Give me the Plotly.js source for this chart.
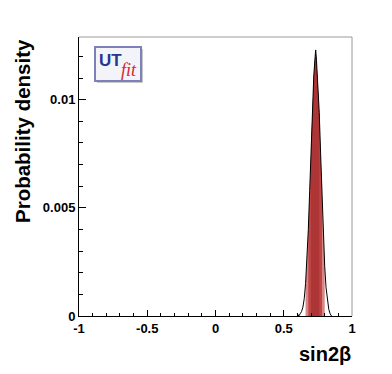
<!DOCTYPE html>
<html>
<head>
<meta charset="utf-8">
<script src="https://cdn.plot.ly/plotly-3.0.1.min.js"></script>
<style>html,body{margin:0;padding:0;background:#fff;}#chart{width:392px;height:374px;}</style>
</head>
<body>
<div id="chart"></div>
<script>
// sin2beta posterior
const sin2b = [0.60, 0.61, 0.62, 0.63, 0.64, 0.65, 0.66, 0.67, 0.68, 0.69, 0.70, 0.71, 0.72, 0.73, 0.734, 0.74, 0.75, 0.76, 0.77, 0.78, 0.79, 0.80, 0.81, 0.82, 0.83, 0.84, 0.85];
const density = [0.0001, 0.0000, 0.0001, 0.0002, 0.0004, 0.0008, 0.0015, 0.0025, 0.0040, 0.0058, 0.0078, 0.0098, 0.0111, 0.0120, 0.0123, 0.0118, 0.0108, 0.0094, 0.0075, 0.0054, 0.0037, 0.0023, 0.0013, 0.0007, 0.0003, 0.0001, 0.0000];
// probability regions (outer, middle, core)
const region95 = [0.66, 0.80];
const region68 = [0.68, 0.78];
const regionCore = [0.70, 0.76];
const xTicks = [-1, -0.5, 0, 0.5, 1];
const xTickText = ['-1', '-0.5', '0', '0.5', '1'];
const yTicks = [0, 0.005, 0.01];
const yTickText = ['0', '0.005', '0.01'];

function sub(r) {
  const xs = [], ys = [];
  sin2b.forEach((v, i) => { if (v >= r[0] - 1e-9 && v <= r[1] + 1e-9) { xs.push(v); ys.push(density[i]); } });
  return {x: xs, y: ys};
}
const fills = [[region95, '#d98585'], [region68, '#bf4545'], [regionCore, '#ad3535']];
const traces = fills.map(([r, c]) => {
  const s = sub(r);
  return {x: s.x, y: s.y, type: 'scatter', mode: 'lines', fill: 'tozeroy', fillcolor: c, line: {width: 0, color: c}, hoverinfo: 'skip'};
});
traces.push({x: sin2b, y: density, type: 'scatter', mode: 'lines', line: {color: 'black', width: 1}, hoverinfo: 'skip'});

const F = 'Liberation Sans, Arial, sans-serif';
const W = 273, H = 279;
const px = v => (v - 79) / W;
const py = v => (316 - v) / H;

const layout = {
  width: 392, height: 374,
  margin: {l: 79, r: 40, t: 37, b: 58},
  paper_bgcolor: 'white', plot_bgcolor: 'white',
  showlegend: false,
  xaxis: {
    range: [-1, 1], tickvals: xTicks, ticktext: xTickText,
    ticks: 'inside', ticklen: 6, tickwidth: 1, tickcolor: 'black',
    showline: true, linecolor: 'black', linewidth: 1, zeroline: false, showgrid: false,
    minor: {dtick: 0.1, tick0: 0, ticks: 'inside', ticklen: 3, tickcolor: 'black', showgrid: false},
    tickfont: {family: F, size: 13, color: 'black', weight: 'bold'}
  },
  yaxis: {
    range: [0, 0.0129], tickvals: yTicks, ticktext: yTickText,
    ticks: 'inside', ticklen: 7, tickwidth: 1, tickcolor: 'black',
    showline: true, linecolor: 'black', linewidth: 1, zeroline: false, showgrid: false,
    minor: {dtick: 0.001, tick0: 0, ticks: 'inside', ticklen: 4, tickcolor: 'black', showgrid: false},
    tickfont: {family: F, size: 13, color: 'black', weight: 'bold'}
  },
  shapes: [
    {type: 'line', xref: 'paper', yref: 'paper', x0: 0, x1: 1, y0: 1, y1: 1, line: {color: '#9a9a9a', width: 1}},
    {type: 'line', xref: 'paper', yref: 'paper', x0: 1, x1: 1, y0: 0, y1: 1, line: {color: '#9a9a9a', width: 1}},
    {type: 'rect', xref: 'paper', yref: 'paper', x0: px(97), x1: px(143), y0: py(83), y1: py(49), fillcolor: '#c8c8c8', line: {width: 0}},
    {type: 'rect', xref: 'paper', yref: 'paper', x0: px(95), x1: px(141), y0: py(81), y1: py(47), fillcolor: '#f3f3fa', line: {color: '#7c82b8', width: 2}}
  ],
  annotations: [
    {text: 'Probability density', xref: 'paper', yref: 'paper', x: px(22), y: py(131), xanchor: 'center', yanchor: 'middle', textangle: -90, showarrow: false, font: {family: F, size: 20.5, color: 'black', weight: 'bold'}},
    {text: 'sin2β', xref: 'paper', yref: 'paper', x: px(353), y: py(354), xanchor: 'right', yanchor: 'middle', showarrow: false, font: {family: F, size: 20, color: 'black', weight: 'bold'}},
    {text: 'UT', xref: 'paper', yref: 'paper', x: px(97), y: py(60), xanchor: 'left', yanchor: 'middle', showarrow: false, font: {family: F, size: 17, color: '#27378a', weight: 'bold'}},
    {text: '<i>fit</i>', xref: 'paper', yref: 'paper', x: px(119), y: py(70), xanchor: 'left', yanchor: 'middle', showarrow: false, font: {family: 'Liberation Serif, Times New Roman, serif', size: 18, color: '#d8262a'}}
  ]
};
Plotly.newPlot('chart', traces, layout, {staticPlot: true, displayModeBar: false});
</script>
</body>
</html>
